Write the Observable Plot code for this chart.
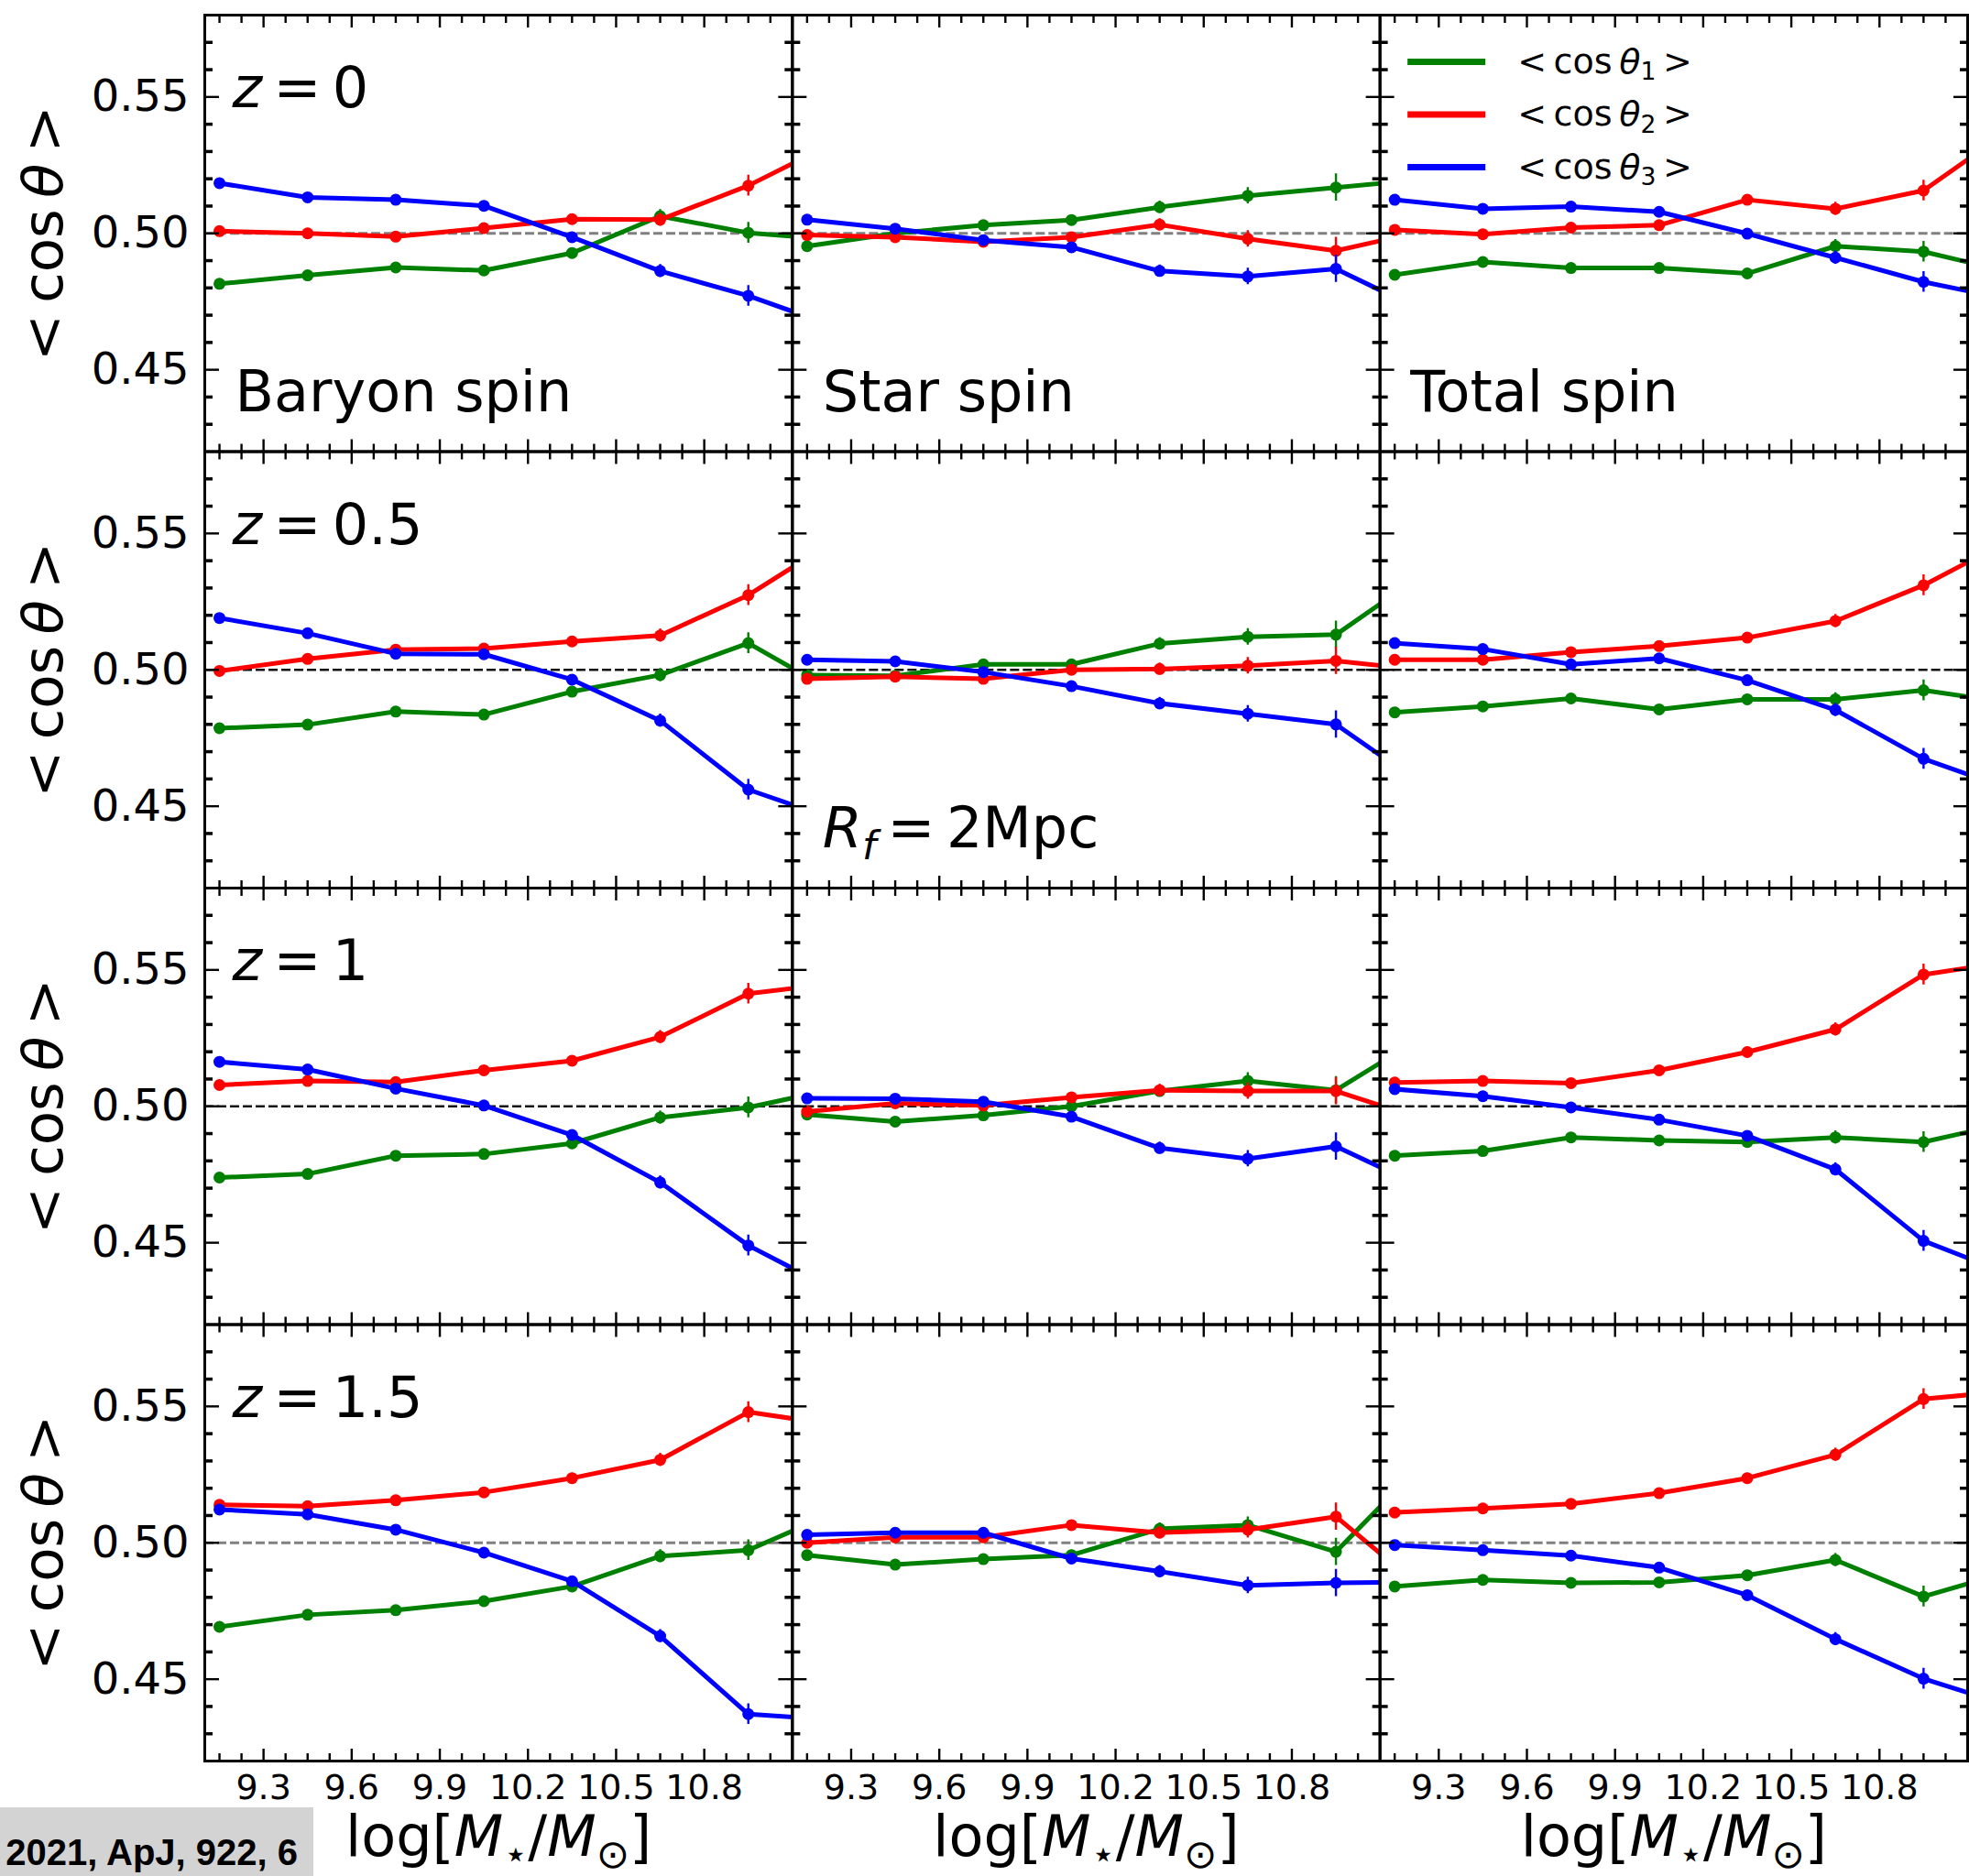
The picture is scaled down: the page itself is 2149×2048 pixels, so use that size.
<!DOCTYPE html>
<html><head><meta charset="utf-8">
<script src="https://cdn.jsdelivr.net/npm/d3@7"></script>
<script src="https://cdn.jsdelivr.net/npm/@observablehq/plot@0.6"></script>
<style>
html,body{margin:0;padding:0;background:#fff;overflow:hidden;}
#wrap{position:relative;width:2149px;height:2048px;overflow:hidden;}
#wrap svg{position:absolute;left:0;top:0;}
#cite{position:absolute;left:0;top:1973px;width:342px;height:75px;background:#d3d3d3;}
#cite span{position:absolute;right:17px;top:27px;line-height:40px;font:bold 40px "Liberation Sans",Arial,sans-serif;white-space:nowrap;color:#000;}
</style></head><body><div id="wrap"></div>
<script>
// ---------------- data ----------------
const massBins = [9.15, 9.45, 9.75, 10.05, 10.35, 10.65, 10.95, 11.25];
const spinTypes = ["Baryon spin", "Star spin", "Total spin"];
const redshifts = ["0", "0.5", "1", "1.5"];
const yMajorTicks = [0.45, 0.50, 0.55];
const yMinorTicks = [0.43, 0.44, 0.46, 0.47, 0.48, 0.49, 0.51, 0.52, 0.53, 0.54, 0.56, 0.57];
const xMajorTicks = [9.3, 9.6, 9.9, 10.2, 10.5, 10.8];
const xMinorTicks = [9.15, 9.225, 9.375, 9.45, 9.525, 9.675, 9.75, 9.825, 9.975, 10.05, 10.125, 10.275, 10.35, 10.425, 10.575, 10.65, 10.725, 10.875, 10.95, 11.025];

// z = 0
const baryon_z0_cos1 = [0.4815, 0.4846, 0.4875, 0.4864, 0.4928, 0.5063, 0.5002, 0.4976];
const baryon_z0_cos2 = [0.5008, 0.5000, 0.4988, 0.5019, 0.5052, 0.5050, 0.5175, 0.5336];
const baryon_z0_cos3 = [0.5184, 0.5132, 0.5123, 0.5101, 0.4986, 0.4862, 0.4771, 0.4657];
const star_z0_cos1 = [0.4953, 0.5000, 0.5030, 0.5049, 0.5096, 0.5138, 0.5168, 0.5198];
const star_z0_cos2 = [0.4994, 0.4986, 0.4969, 0.4986, 0.5032, 0.4980, 0.4936, 0.5009];
const star_z0_cos3 = [0.5050, 0.5017, 0.4975, 0.4949, 0.4862, 0.4842, 0.4870, 0.4714];
const total_z0_cos1 = [0.4848, 0.4895, 0.4873, 0.4873, 0.4853, 0.4953, 0.4933, 0.4856];
const total_z0_cos2 = [0.5013, 0.4997, 0.5021, 0.5030, 0.5123, 0.5090, 0.5157, 0.5384];
const total_z0_cos3 = [0.5123, 0.5090, 0.5098, 0.5079, 0.4999, 0.4911, 0.4822, 0.4756];
// z = 0.5
const baryon_z05_cos1 = [0.4786, 0.4799, 0.4847, 0.4836, 0.4920, 0.4981, 0.5098, 0.4914];
const baryon_z05_cos2 = [0.4996, 0.5040, 0.5074, 0.5078, 0.5104, 0.5126, 0.5274, 0.5477];
const baryon_z05_cos3 = [0.5190, 0.5134, 0.5059, 0.5057, 0.4964, 0.4814, 0.4561, 0.4450];
const star_z05_cos1 = [0.4981, 0.4978, 0.5020, 0.5020, 0.5096, 0.5121, 0.5129, 0.5354];
const star_z05_cos2 = [0.4967, 0.4975, 0.4967, 0.5000, 0.5003, 0.5015, 0.5033, 0.4999];
const star_z05_cos3 = [0.5037, 0.5031, 0.4992, 0.4940, 0.4877, 0.4839, 0.4800, 0.4575];
const total_z05_cos1 = [0.4844, 0.4866, 0.4895, 0.4855, 0.4892, 0.4892, 0.4925, 0.4878];
const total_z05_cos2 = [0.5037, 0.5037, 0.5065, 0.5087, 0.5118, 0.5179, 0.5310, 0.5479];
const total_z05_cos3 = [0.5098, 0.5076, 0.5020, 0.5042, 0.4962, 0.4853, 0.4674, 0.4560];
// z = 1
const baryon_z1_cos1 = [0.4739, 0.4752, 0.4819, 0.4825, 0.4864, 0.4959, 0.4996, 0.5065];
const baryon_z1_cos2 = [0.5078, 0.5093, 0.5089, 0.5132, 0.5167, 0.5254, 0.5413, 0.5451];
const baryon_z1_cos3 = [0.5163, 0.5135, 0.5065, 0.5003, 0.4895, 0.4721, 0.4490, 0.4323];
const star_z1_cos1 = [0.4970, 0.4944, 0.4967, 0.5000, 0.5056, 0.5093, 0.5059, 0.5258];
const star_z1_cos2 = [0.4981, 0.5011, 0.5003, 0.5033, 0.5059, 0.5056, 0.5056, 0.4951];
const star_z1_cos3 = [0.5029, 0.5028, 0.5017, 0.4962, 0.4847, 0.4808, 0.4853, 0.4701];
const total_z1_cos1 = [0.4819, 0.4836, 0.4886, 0.4875, 0.4869, 0.4886, 0.4869, 0.4942];
const total_z1_cos2 = [0.5087, 0.5093, 0.5085, 0.5132, 0.5199, 0.5282, 0.5483, 0.5532];
const total_z1_cos3 = [0.5063, 0.5037, 0.4996, 0.4951, 0.4892, 0.4769, 0.4507, 0.4381];
// z = 1.5
const baryon_z15_cos1 = [0.4692, 0.4736, 0.4753, 0.4786, 0.4840, 0.4951, 0.4973, 0.5114];
const baryon_z15_cos2 = [0.5139, 0.5134, 0.5156, 0.5185, 0.5237, 0.5304, 0.5479, 0.5432];
const baryon_z15_cos3 = [0.5122, 0.5104, 0.5048, 0.4964, 0.4859, 0.4658, 0.4372, 0.4351];
const star_z15_cos1 = [0.4955, 0.4920, 0.4940, 0.4955, 0.5051, 0.5065, 0.4967, 0.5297];
const star_z15_cos2 = [0.5000, 0.5020, 0.5020, 0.5065, 0.5037, 0.5048, 0.5096, 0.4828];
const star_z15_cos3 = [0.5029, 0.5037, 0.5037, 0.4942, 0.4895, 0.4844, 0.4853, 0.4857];
const total_z15_cos1 = [0.4840, 0.4864, 0.4853, 0.4855, 0.4881, 0.4937, 0.4803, 0.4897];
const total_z15_cos2 = [0.5111, 0.5126, 0.5143, 0.5182, 0.5237, 0.5323, 0.5527, 0.5557];
const total_z15_cos3 = [0.4992, 0.4973, 0.4953, 0.4909, 0.4808, 0.4647, 0.4502, 0.4399];

// estimated 1-sigma error bars per mass bin
const errBaryon = [0.0012, 0.0012, 0.0012, 0.0013, 0.0018, 0.0024, 0.0038, 0.006];
const errStar   = [0.0015, 0.0015, 0.0015, 0.0018, 0.0022, 0.0030, 0.0050, 0.008];
const errTotal  = [0.0012, 0.0012, 0.0012, 0.0013, 0.0018, 0.0024, 0.0038, 0.006];

const legendLabels = ["<\u2009cos\u2009{i:θ}{sub:1}\u2009>", "<\u2009cos\u2009{i:θ}{sub:2}\u2009>", "<\u2009cos\u2009{i:θ}{sub:3}\u2009>"];

// ---------------- table built from the arrays ----------------
const panelTable = [
  ["Baryon spin", "0", [baryon_z0_cos1, baryon_z0_cos2, baryon_z0_cos3], errBaryon],
  ["Star spin", "0", [star_z0_cos1, star_z0_cos2, star_z0_cos3], errStar],
  ["Total spin", "0", [total_z0_cos1, total_z0_cos2, total_z0_cos3], errTotal],
  ["Baryon spin", "0.5", [baryon_z05_cos1, baryon_z05_cos2, baryon_z05_cos3], errBaryon],
  ["Star spin", "0.5", [star_z05_cos1, star_z05_cos2, star_z05_cos3], errStar],
  ["Total spin", "0.5", [total_z05_cos1, total_z05_cos2, total_z05_cos3], errTotal],
  ["Baryon spin", "1", [baryon_z1_cos1, baryon_z1_cos2, baryon_z1_cos3], errBaryon],
  ["Star spin", "1", [star_z1_cos1, star_z1_cos2, star_z1_cos3], errStar],
  ["Total spin", "1", [total_z1_cos1, total_z1_cos2, total_z1_cos3], errTotal],
  ["Baryon spin", "1.5", [baryon_z15_cos1, baryon_z15_cos2, baryon_z15_cos3], errBaryon],
  ["Star spin", "1.5", [star_z15_cos1, star_z15_cos2, star_z15_cos3], errStar],
  ["Total spin", "1.5", [total_z15_cos1, total_z15_cos2, total_z15_cos3], errTotal]
];
const points = [];
for (const [spin, z, series, err] of panelTable) {
  series.forEach((vals, s) => vals.forEach((v, i) => points.push({spin, z, s, m: massBins[i], v, e: err[i]})));
}

// ---------------- styles ----------------
const seriesColors = ["#008000", "#ff0000", "#0000ff"];
const darkRefRows = ["0.5", "1"];
const refLine = redshifts.map(z => ({z, v: 0.5}));
const barShape = {draw(ctx, l) { ctx.moveTo(0, 0); ctx.lineTo(0, -l); }};

const seriesMarks = [];
seriesColors.forEach((color, s) => {
  const pts = points.filter(d => d.s === s);
  seriesMarks.push(
    Plot.line(pts, {x: "m", y: "v", fx: "spin", fy: "z", stroke: color, strokeWidth: 5, clip: true}),
    Plot.ruleX(pts, {x: "m", y1: d => d.v - d.e, y2: d => d.v + d.e, fx: "spin", fy: "z", stroke: color, strokeWidth: 2.4, clip: true}),
    Plot.dot(pts, {x: "m", y: "v", fx: "spin", fy: "z", fill: color, r: 6.5, clip: true})
  );
});

const legendMarks = [];
seriesColors.forEach((color, i) => {
  const item = [{spin: "Total spin", z: "0"}];
  legendMarks.push(
    Plot.vector(item, {fx: "spin", fy: "z", frameAnchor: "top-left", dx: 30, dy: 51 + 57.5 * i, length: 85, rotate: 90, anchor: "start", shape: barShape, stroke: color, strokeWidth: 7, strokeLinecap: "butt"}),
    Plot.text(item, {fx: "spin", fy: "z", frameAnchor: "top-left", dx: 150, dy: 51 + 57.5 * i, text: () => legendLabels[i], textAnchor: "start", lineAnchor: "middle", fontSize: 38})
  );
});

const zLabels = redshifts.map(z => ({spin: "Baryon spin", z, t: "{i:z}\u2009=\u2009" + z}));
const bottomLabels = [
  {spin: "Baryon spin", z: "0", t: "Baryon spin"},
  {spin: "Star spin", z: "0", t: "Star spin"},
  {spin: "Total spin", z: "0", t: "Total spin"},
  {spin: "Star spin", z: "0.5", t: "{i:R}{isub:f}\u2009=\u20092Mpc"}
];
const yLabelRows = redshifts.map(z => ({spin: "Baryon spin", z}));
const xLabelCols = spinTypes.map(spin => ({spin, z: "1.5"}));

const chart = Plot.plot({
  width: 2149, height: 2048,
  marginLeft: 223, marginRight: 2, marginTop: 16, marginBottom: 126,
  style: {fontFamily: "'DejaVu Sans', sans-serif", background: "transparent", color: "black", overflow: "visible"},
  fx: {domain: spinTypes, padding: 0, round: false, axis: null, label: null},
  fy: {domain: redshifts, padding: 0, round: false, axis: null, label: null},
  x: {domain: [9.1, 11.1], axis: null},
  y: {domain: [0.42, 0.58], axis: null},
  marks: [
    Plot.ruleY(refLine.filter(d => !darkRefRows.includes(d.z)), {y: "v", fy: "z", stroke: "#808080", strokeWidth: 2.8, strokeDasharray: "10,4"}),
    Plot.ruleY(refLine.filter(d => darkRefRows.includes(d.z)), {y: "v", fy: "z", stroke: "#111111", strokeWidth: 2.4, strokeDasharray: "10,4"}),
    ...seriesMarks,
    Plot.frame({stroke: "black", strokeWidth: 3}),
    // inward ticks on all four sides of every panel
    Plot.axisY(yMajorTicks, {anchor: "left", tickSize: -16, fill: "none", strokeWidth: 2.4, facetAnchor: null, label: null}),
    Plot.axisY(yMajorTicks, {anchor: "right", tickSize: -16, fill: "none", strokeWidth: 2.4, facetAnchor: null, label: null}),
    Plot.axisY(yMinorTicks, {anchor: "left", tickSize: -9, fill: "none", strokeWidth: 3.5, facetAnchor: null, label: null}),
    Plot.axisY(yMinorTicks, {anchor: "right", tickSize: -9, fill: "none", strokeWidth: 3.5, facetAnchor: null, label: null}),
    Plot.axisX(xMajorTicks, {anchor: "bottom", tickSize: -13, fill: "none", strokeWidth: 2.4, facetAnchor: null, label: null}),
    Plot.axisX(xMajorTicks, {anchor: "top", tickSize: -13, fill: "none", strokeWidth: 2.4, facetAnchor: null, label: null}),
    Plot.axisX(xMinorTicks, {anchor: "bottom", tickSize: -8, fill: "none", strokeWidth: 2.4, facetAnchor: null, label: null}),
    Plot.axisX(xMinorTicks, {anchor: "top", tickSize: -8, fill: "none", strokeWidth: 2.4, facetAnchor: null, label: null}),
    // tick labels on the outer panels
    Plot.axisY(yMajorTicks, {anchor: "left", stroke: "none", tickSize: 0, tickPadding: 17, fontSize: 48, tickFormat: d3.format(".2f"), label: null}),
    Plot.axisX(xMajorTicks, {anchor: "bottom", stroke: "none", tickSize: 0, tickPadding: 15, fontSize: 38, tickFormat: d3.format(".1f"), label: null}),
    // axis titles
    Plot.text(yLabelRows, {fx: "spin", fy: "z", frameAnchor: "left", dx: -175, rotate: -90, fontSize: 61, textAnchor: "middle", lineAnchor: "middle", text: () => "<\u2009cos\u2009{i:θ}\u2009>"}),
    Plot.text(xLabelCols, {fx: "spin", fy: "z", frameAnchor: "bottom", dy: 84, fontSize: 62, textAnchor: "middle", lineAnchor: "middle", text: () => "log[{i:M}{sub:⋆}/{i:M}{sub:⊙}]"}),
    // panel annotations
    Plot.text(zLabels, {fx: "spin", fy: "z", frameAnchor: "top-left", dx: 30, dy: 81, fontSize: 62, textAnchor: "start", lineAnchor: "middle", text: "t"}),
    Plot.text(bottomLabels, {fx: "spin", fy: "z", frameAnchor: "bottom-left", dx: 33, dy: -64, fontSize: 62, textAnchor: "start", lineAnchor: "middle", text: "t"}),
    ...legendMarks
  ]
});

const wrap = document.getElementById("wrap");
wrap.appendChild(chart);

// mathtext-like rich text: {i:..} italic, {sub:..} subscript, {isub:..} italic subscript
function richify(root) {
  root.querySelectorAll("text").forEach(t => {
    const s = t.textContent;
    if (!/\{(i|sub|isub):/.test(s)) return;
    const fs = parseFloat(getComputedStyle(t).fontSize);
    t.textContent = "";
    const re = /\{(i|sub|isub):([^}]*)\}/g;
    let last = 0, m, shift = 0;
    const add = (str, kind) => {
      if (!str) return;
      const sp = document.createElementNS("http://www.w3.org/2000/svg", "tspan");
      sp.textContent = str;
      const isSub = kind === "sub" || kind === "isub";
      const target = isSub ? 0.2 * fs : 0;
      if (target !== shift) { sp.setAttribute("dy", target - shift); shift = target; }
      if (isSub) sp.setAttribute("font-size", 0.7 * fs);
      if (kind === "i" || kind === "isub") sp.setAttribute("font-style", "italic");
      t.appendChild(sp);
    };
    while ((m = re.exec(s))) { add(s.slice(last, m.index), "n"); add(m[2], m[1]); last = re.lastIndex; }
    add(s.slice(last), "n");
  });
}
richify(chart);

const cite = document.createElement("div");
cite.id = "cite";
cite.innerHTML = "<span>2021, ApJ, 922, 6</span>";
wrap.appendChild(cite);
</script>
</body></html>
